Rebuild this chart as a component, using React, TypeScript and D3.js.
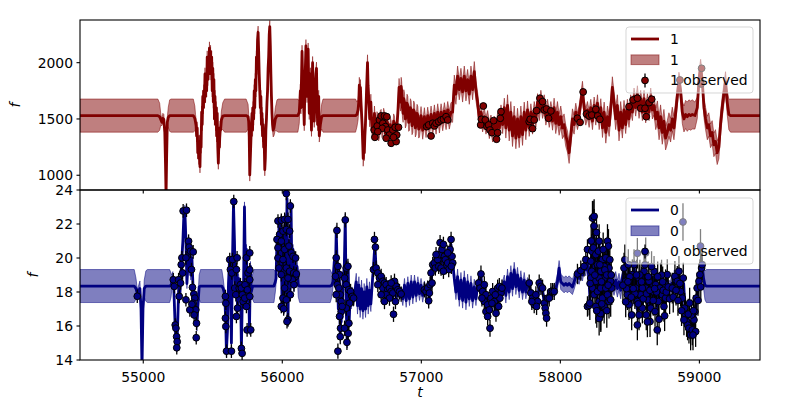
import React from 'react';
import * as d3 from 'd3';

type Tri = [number, number, number];

const xDomain: [number, number] = [54545, 59436];
const xTicks = [55000, 56000, 57000, 58000, 59000];
const topYDomain: [number, number] = [869, 2379];
const topYTicks = [1000, 1500, 2000];
const botYDomain: [number, number] = [14, 24];
const botYTicks = [14, 16, 18, 20, 22, 24];
const topName = '1';
const botName = '0';

// GP fit, series "1": [t, mean, sd]
const topFit: Tri[] = [
  [54545,1530,147],[55105,1530,147],[55118,1520,120],[55126,1495,50],[55134,1470,30],[55141,1505,45],[55148,1495,45],[55155,1380,35],[55160,1100,30],[55164,820,30],[55168,1150,30],[55173,1470,45],[55180,1515,90],[55190,1530,140],[55200,1530,147],
  [55360,1530,147],[55371,1505,110],[55376,1470,70],[55380,1440,60],[55384,1350,55],[55388,1420,55],[55392,1200,55],[55396,1300,55],[55400,1150,55],[55404,1250,55],[55408,1076,55],[55412,1350,55],[55416,1250,55],[55420,1560,55],[55424,1450,55],[55428,1700,55],[55432,1600,55],[55436,1750,55],[55440,1650,55],[55444,1900,55],[55448,1700,55],[55452,1850,55],[55456,1750,55],[55460,2050,55],[55464,1850,55],[55468,2000,55],[55472,1900,55],[55476,2130,55],[55480,1950,55],[55484,2100,55],[55488,1900,55],[55492,2050,55],[55496,1750,55],[55500,1950,55],[55504,1650,55],[55508,1850,55],[55512,1500,55],[55516,1700,55],[55520,1450,55],[55524,1600,55],[55528,1350,55],[55532,1550,55],[55536,1250,55],[55540,1108,55],[55544,1300,55],[55548,1250,55],[55552,1420,60],[55556,1400,65],[55562,1490,80],[55572,1525,120],[55585,1530,147],
  [55740,1530,147],[55754,1520,110],[55758,1480,70],[55762,1350,55],[55766,1003,55],[55770,1150,55],[55774,1300,55],[55778,1450,55],[55782,1550,55],[55786,1400,55],[55790,1600,55],[55794,1500,55],[55798,1750,55],[55802,1600,55],[55806,1850,55],[55810,1750,55],[55814,2050,55],[55818,1950,55],[55822,2200,55],[55826,2270,55],[55830,2100,55],[55834,1900,55],[55838,1750,55],[55842,1600,55],[55846,1700,55],[55850,1450,55],[55854,1550,55],[55858,1350,55],[55862,1450,55],[55866,1250,55],[55870,1300,55],[55874,1050,55],[55878,1150,55],[55882,1400,55],[55886,1500,55],[55890,1650,55],[55894,1750,55],[55898,1950,55],[55902,2050,55],[55906,2250,55],[55910,2320,55],[55914,2150,55],[55918,1900,55],[55922,1700,55],[55926,1550,55],[55930,1450,55],[55934,1400,60],[55940,1420,70],[55950,1500,100],[55962,1530,140],[55972,1530,147],
  [56112,1530,147],[56122,1560,100],[56126,1650,70],[56130,1750,60],[56134,1600,55],[56138,1850,55],[56142,2100,55],[56146,1900,55],[56150,1750,55],[56154,1600,55],[56158,1450,55],[56162,1750,55],[56166,1950,55],[56170,2150,55],[56174,1900,55],[56178,1700,55],[56182,1950,55],[56186,2120,55],[56190,1800,55],[56194,1550,55],[56198,1750,55],[56202,1900,55],[56206,1600,55],[56210,1400,55],[56214,1750,55],[56218,2000,55],[56222,1750,55],[56226,1550,55],[56230,1480,55],[56234,1650,55],[56238,1800,55],[56242,1900,55],[56246,1950,55],[56250,1650,55],[56254,1450,55],[56258,1600,55],[56262,1700,55],[56266,1350,55],[56270,1400,60],[56274,1450,70],[56283,1520,110],[56293,1530,147],
  [56527,1530,147],[56537,1540,110],[56545,1580,90],[56550,1650,75],[56554,1800,70],[56558,1720,70],[56562,1780,70],[56566,1650,70],[56570,1550,70],[56574,1450,70],[56578,1300,70],[56582,1150,70],[56586,1250,70],[56590,1200,70],[56594,1350,70],[56598,1450,70],[56602,1600,70],[56606,1750,70],[56610,1900,70],[56613,2000,70],[56617,1800,70],[56621,1700,70],[56625,1600,70],[56629,1500,70],[56633,1550,70],[56637,1650,70],[56642,1500,70],[56646,1400,65],[56651,1450,65],[56657,1380,65],[56663,1550,65],[56669,1430,65],[56675,1380,65],[56681,1500,65],[56687,1480,65],[56693,1370,65],[56699,1400,65],[56705,1510,65],[56711,1520,65],[56717,1400,65],[56723,1420,65],[56729,1530,65],[56735,1500,65],[56741,1370,65],[56747,1380,65],[56753,1480,65],[56759,1460,65],[56765,1330,65],[56771,1350,65],[56777,1450,65],[56783,1420,65],[56789,1320,65],[56795,1380,65],[56801,1480,65],[56807,1460,65],[56813,1340,65],[56819,1360,65],[56825,1450,70],[56831,1550,75],[56840,1780,80],[56845,1680,80],[56850,1650,80],[56855,1790,80],[56859,1750,80],[56864,1600,80],[56869,1550,80],[56874,1680,80],[56879,1650,80],[56885,1500,80],[56891,1520,80],[56897,1640,80],[56903,1620,80],[56909,1470,80],[56915,1480,80],[56921,1600,80],[56927,1580,80],[56933,1440,80],[56939,1460,80],[56945,1580,80],[56951,1560,80],[56957,1420,80],[56963,1440,80],[56969,1550,80],[56975,1530,80],[56981,1410,80],[56987,1420,80],
  [56998,1530,80],[57010,1400,80],[57022,1520,80],[57034,1410,75],[57046,1530,75],[57058,1420,75],[57070,1540,75],[57082,1430,75],[57094,1550,75],[57106,1440,75],[57118,1560,75],[57130,1450,75],[57142,1560,75],[57154,1470,75],[57166,1570,75],[57178,1480,75],[57190,1580,75],[57201,1490,80],[57213,1560,85],[57225,1560,90],[57237,1800,90],[57249,1720,90],[57261,1880,90],[57273,1760,90],[57285,1860,90],[57297,1740,90],[57309,1880,90],[57321,1750,90],[57333,1850,90],[57345,1720,90],[57357,1880,90],[57369,1760,90],[57381,1920,90],[57393,1750,90],[57405,1650,85],[57417,1500,80],[57429,1560,75],[57441,1460,75],[57453,1520,75],[57465,1440,75],[57477,1500,75],[57489,1400,75],[57501,1460,75],[57513,1370,75],[57525,1450,75],[57537,1380,75],[57549,1480,75],[57561,1420,75],[57573,1550,75],[57585,1450,80],[57597,1600,85],[57608,1420,90],[57620,1620,95],[57632,1400,95],[57644,1560,95],[57656,1350,95],[57668,1520,95],[57680,1330,95],[57692,1500,95],[57704,1340,95],[57716,1520,95],[57728,1360,95],[57740,1560,90],[57752,1400,85],[57764,1580,80],[57776,1420,75],[57788,1560,75],[57800,1440,75],[57812,1580,75],[57824,1500,75],[57836,1650,75],[57848,1560,75],[57860,1680,75],[57872,1580,75],[57884,1640,75],[57896,1520,75],[57908,1600,75],[57920,1500,75],[57932,1580,75],[57944,1480,80],[57955,1600,85],[57967,1460,90],[57979,1560,95],[57991,1450,95],[58003,1520,95],[58015,1420,95],[58027,1450,95],[58039,1350,95],[58051,1300,95],[58063,1200,95],[58075,1350,95],[58087,1500,90],[58099,1450,85],[58111,1560,80],[58123,1480,75],[58135,1540,75],[58147,1650,75],[58159,1760,75],[58171,1600,75],[58183,1520,75],[58195,1580,75],[58207,1500,75],
  [58219,1600,75],[58231,1480,75],[58243,1620,75],[58255,1520,75],[58267,1640,75],[58279,1480,75],[58291,1600,80],[58303,1420,85],[58315,1560,90],[58327,1380,95],[58339,1520,95],[58351,1440,95],[58363,1600,95],[58374,1780,95],[58386,1650,95],[58398,1500,95],[58410,1620,95],[58422,1400,95],[58434,1560,95],[58446,1420,90],[58458,1580,85],[58470,1450,80],[58482,1600,75],[58494,1500,75],[58506,1640,75],[58518,1560,75],[58530,1700,75],[58542,1600,75],[58554,1720,75],[58566,1580,75],[58578,1680,75],[58590,1560,75],[58602,1680,75],[58614,1540,75],[58626,1650,75],[58638,1560,75],[58650,1700,75],[58662,1580,80],[58674,1620,85],[58686,1500,95],[58698,1560,100],[58710,1420,105],[58721,1520,105],[58733,1380,105],[58745,1480,105],[58757,1330,105],[58769,1380,105],[58781,1450,105],[58793,1400,105],[58805,1500,105],[58817,1420,105],[58829,1550,100],[58841,1700,85],[58853,1840,75],[58865,1750,85],[58877,1560,100],[58889,1500,115],[58901,1540,125],[58913,1520,130],[58925,1540,130],[58937,1530,130],[58949,1540,130],[58968,1530,120],[58985,1600,95],[58997,1850,75],[59009,1960,70],[59020,1850,75],[59033,1600,90],[59045,1500,100],[59057,1420,105],[59068,1450,105],[59080,1350,105],[59092,1380,105],[59104,1270,105],[59116,1300,105],[59128,1200,105],[59140,1250,105],[59152,1450,100],[59164,1600,95],[59176,1720,90],[59188,1830,90],[59200,1650,110],[59212,1540,135],[59224,1530,147],[59436,1530,147]
];

// GP fit, series "0": [t, mean, sd]
const botFit: Tri[] = [
  [54545,18.35,0.97],[54935,18.35,0.97],[54948,18.2,0.6],[54957,17.9,0.25],[54967,18.1,0.3],[54976,18.2,0.45],[54984,17.0,0.2],[54991,13.5,0.2],[54998,17.0,0.2],[55007,18.2,0.5],[55019,18.35,0.9],[55030,18.35,0.97],
  [55190,18.35,0.97],[55200,18.4,0.7],[55206,18.6,0.4],[55213,18.9,0.3],[55220,18.2,0.3],[55228,16.3,0.3],[55235,15.2,0.3],[55242,14.8,0.3],[55249,16.5,0.3],[55256,18.6,0.3],[55263,17.8,0.3],[55271,19.0,0.3],[55278,20.0,0.3],[55285,21.0,0.3],[55292,22.5,0.3],[55299,22.8,0.3],[55307,21.0,0.3],[55314,18.5,0.3],[55321,19.5,0.3],[55328,20.8,0.3],[55335,20.3,0.3],[55342,19.0,0.3],[55350,20.0,0.3],[55357,18.5,0.3],[55364,17.8,0.3],[55371,17.3,0.3],[55378,16.8,0.3],[55386,16.0,0.3],[55393,17.2,0.4],[55402,18.3,0.7],[55412,18.35,0.97],
  [55565,18.35,0.97],[55575,18.2,0.6],[55581,18.0,0.35],[55587,17.7,0.3],[55594,16.0,0.3],[55598,14.5,0.3],[55606,15.8,0.3],[55613,18.5,0.3],[55620,19.8,0.3],[55627,19.3,0.3],[55634,15.0,0.3],[55642,19.9,0.3],[55649,23.2,0.3],[55656,21.0,0.3],[55663,18.0,0.3],[55670,19.5,0.3],[55678,17.0,0.3],[55685,18.8,0.3],[55692,18.2,0.3],[55699,18.5,0.3],[55706,14.7,0.3],[55713,17.9,0.3],[55720,17.4,0.3],[55728,23.0,0.3],[55735,19.0,0.3],[55742,20.5,0.3],[55749,17.5,0.3],[55756,19.0,0.3],[55764,15.8,0.3],[55771,19.5,0.3],[55777,18.0,0.4],[55785,18.3,0.7],[55796,18.35,0.97],
  [55940,18.35,0.97],[55950,18.6,0.6],[55955,18.8,0.35],[55962,21.0,0.3],[55969,20.0,0.3],[55977,22.0,0.3],[55984,19.5,0.3],[55991,22.2,0.3],[55998,17.2,0.3],[56005,21.5,0.3],[56012,17.0,0.3],[56020,22.3,0.3],[56027,18.0,0.3],[56034,23.5,0.3],[56041,16.3,0.3],[56048,21.0,0.3],[56056,17.8,0.3],[56063,23.0,0.3],[56070,18.5,0.3],[56077,20.5,0.3],[56084,18.3,0.3],[56091,20.0,0.3],[56099,18.8,0.3],[56106,19.5,0.35],[56115,18.4,0.7],[56125,18.35,0.97],
  [56345,18.35,0.97],[56356,18.4,0.7],[56364,18.6,0.4],[56374,19.8,0.3],[56381,18.5,0.3],[56388,21.6,0.3],[56395,19.5,0.3],[56403,17.0,0.3],[56410,19.0,0.3],[56417,15.5,0.3],[56424,17.5,0.3],[56431,16.5,0.3],[56438,18.8,0.3],[56446,19.5,0.3],[56453,22.3,0.3],[56460,17.0,0.3],[56467,15.0,0.3],[56474,19.5,0.3],[56481,16.2,0.3],[56489,18.0,0.3],[56496,17.3,0.3],[56503,18.0,0.3],[56510,17.5,0.35],[56520,17.9,0.45],[56532,18.6,0.5],[56541,17.2,0.5],[56551,18.4,0.5],[56560,17.0,0.5],[56570,18.2,0.5],[56580,16.9,0.5],[56589,18.0,0.5],[56599,17.0,0.5],[56608,18.3,0.5],[56618,17.2,0.5],[56627,18.1,0.5],[56637,17.3,0.45],[56647,18.5,0.4],[56656,19.5,0.3],[56666,20.8,0.3],[56675,19.3,0.3],[56685,18.8,0.3],[56694,19.0,0.3],[56704,18.5,0.3],[56714,18.9,0.3],[56723,18.3,0.3],[56735,18.6,0.3],[56747,18.0,0.3],[56759,18.4,0.3],[56771,17.8,0.3],[56783,18.3,0.3],[56795,17.7,0.3],[56807,18.4,0.3],[56819,17.7,0.3],[56831,18.2,0.3],[56843,17.8,0.3],[56855,18.0,0.3],[56867,17.6,0.4],[56879,18.4,0.4],[56891,17.5,0.4],[56903,18.5,0.4],[56915,17.6,0.4],[56927,18.6,0.4],[56939,17.7,0.4],[56951,18.6,0.4],[56963,17.8,0.4],[56975,18.5,0.4],[56987,17.9,0.4],
  [56998,18.4,0.4],[57010,17.8,0.4],[57022,18.3,0.35],[57034,17.9,0.35],[57046,18.3,0.35],[57058,17.7,0.35],[57070,18.6,0.35],[57082,19.5,0.35],[57094,19.8,0.35],[57106,19.5,0.35],[57118,20.1,0.35],[57130,19.6,0.35],[57142,20.4,0.35],[57154,19.7,0.35],[57166,20.3,0.35],[57178,19.5,0.35],[57190,20.0,0.35],[57201,19.6,0.35],[57213,20.8,0.35],[57225,19.8,0.35],[57237,18.8,0.4],[57249,18.0,0.45],[57261,18.9,0.45],[57273,17.6,0.45],[57285,18.7,0.45],[57297,17.5,0.45],[57309,18.8,0.45],[57321,17.4,0.45],[57333,18.6,0.45],[57345,17.6,0.45],[57357,18.5,0.45],[57369,17.5,0.45],[57381,18.3,0.45],[57393,17.6,0.4],[57405,18.4,0.35],[57417,18.6,0.3],[57429,18.9,0.3],[57441,18.0,0.3],[57453,18.3,0.3],[57465,17.4,0.3],[57477,17.0,0.3],[57489,16.6,0.3],[57501,17.3,0.3],[57513,17.8,0.3],[57525,17.2,0.3],[57537,17.0,0.3],[57549,18.0,0.3],[57561,18.2,0.3],[57573,17.9,0.3],[57585,18.3,0.35],[57597,18.6,0.4],[57608,17.8,0.45],[57620,18.9,0.45],[57632,18.0,0.45],[57644,19.1,0.45],[57656,18.2,0.45],[57668,19.3,0.45],[57680,18.3,0.45],[57692,19.0,0.45],[57704,18.1,0.45],[57716,18.8,0.45],[57728,18.0,0.45],[57740,18.7,0.45],[57752,18.0,0.4],[57764,18.5,0.35],[57776,18.4,0.3],[57788,17.9,0.3],[57800,17.6,0.3],[57812,17.4,0.3],[57824,17.8,0.3],[57836,17.5,0.3],[57848,18.4,0.3],[57860,18.3,0.3],[57872,18.1,0.3],[57884,17.4,0.3],[57896,16.8,0.3],[57908,17.6,0.3],[57920,17.7,0.3],[57932,18.0,0.3],[57944,18.0,0.3],[57955,18.1,0.35],[57967,18.2,0.4],[57979,18.6,0.45],[57991,19.4,0.45],[58003,18.6,0.45],[58015,18.5,0.45],[58027,18.4,0.45],[58039,18.5,0.45],[58051,18.4,0.45],[58063,18.5,0.45],[58075,18.4,0.45],[58087,18.3,0.45],[58099,18.6,0.45],[58111,18.9,0.4],[58123,19.0,0.35],[58135,18.8,0.35],[58147,19.2,0.35],[58159,19.0,0.35],[58171,19.5,0.35],[58183,19.3,0.35],[58195,19.9,0.35],[58207,18.5,0.35],
  [58214,17.5,0.35],[58221,20.0,0.35],[58229,18.2,0.35],[58236,22.3,0.35],[58243,21.5,0.35],[58250,18.0,0.35],[58257,20.2,0.35],[58264,17.8,0.35],[58272,19.6,0.35],[58279,21.0,0.35],[58286,17.2,0.35],[58293,19.2,0.35],[58300,18.0,0.35],[58308,19.9,0.35],[58315,17.5,0.35],[58322,19.5,0.35],[58329,18.3,0.35],[58336,20.9,0.35],[58343,20.5,0.35],[58351,18.0,0.35],[58358,19.4,0.35],[58365,18.2,0.4],[58374,18.6,0.45],[58386,18.3,0.5],[58398,18.7,0.5],[58410,18.2,0.5],[58422,18.6,0.5],[58434,18.1,0.5],[58446,18.8,0.45],[58456,19.2,0.4],[58465,18.0,0.4],[58475,18.9,0.4],[58485,17.5,0.4],[58494,19.4,0.4],[58504,17.9,0.4],[58513,18.8,0.4],[58523,17.6,0.4],[58532,19.5,0.4],[58542,18.0,0.4],[58552,17.0,0.4],[58561,18.8,0.4],[58571,17.8,0.4],[58580,18.5,0.4],[58590,17.3,0.4],[58599,19.0,0.4],[58609,17.8,0.4],[58619,18.6,0.4],[58628,17.2,0.4],[58638,18.6,0.4],[58647,17.0,0.4],[58657,18.3,0.4],[58666,18.9,0.4],[58676,17.8,0.4],[58686,18.5,0.4],[58695,16.8,0.4],[58705,17.9,0.4],[58714,18.4,0.4],[58724,18.0,0.4],[58733,17.7,0.4],[58743,17.4,0.4],[58753,18.3,0.4],[58762,18.8,0.45],[58772,18.0,0.5],[58781,18.2,0.5],[58791,18.1,0.5],[58800,18.5,0.45],[58810,18.3,0.4],[58820,18.9,0.4],[58829,18.5,0.4],[58839,18.7,0.4],[58848,19.0,0.4],[58858,18.2,0.4],[58868,18.0,0.4],[58877,17.6,0.4],[58887,18.5,0.4],[58896,17.1,0.4],[58906,16.6,0.4],[58915,16.2,0.4],[58925,16.0,0.4],[58934,15.6,0.4],[58944,16.1,0.4],[58954,15.6,0.4],[58963,16.4,0.4],[58973,16.8,0.4],[58982,17.8,0.4],[58992,18.3,0.4],[59002,18.8,0.4],[59011,19.2,0.4],[59020,19.6,0.4],[59030,18.8,0.6],[59040,18.4,0.85],[59050,18.35,0.97],[59436,18.35,0.97]
];

// observations, series "1": [t, f, err]
const topObs: Tri[] = [
  [56666,1337,25],[56661,1402,25],[56683,1438,25],[56699,1491,25],[56711,1527,25],[56735,1527,25],[56752,1520,25],[56723,1462,25],[56742,1432,25],[56719,1417,25],[56687,1387,25],[56759,1402,25],[56771,1358,25],[56747,1329,25],[56783,1284,25],[56795,1402,25],[56812,1426,25],[56823,1358,25],[56836,1426,25],[56819,1299,25],[56800,1337,25],
  [57039,1432,25],[57053,1447,25],[57070,1349,25],[57082,1462,25],[57094,1438,25],[57106,1462,25],[57125,1476,25],[57142,1491,25],[57159,1497,25],[57178,1520,25],[57190,1491,25],
  [57427,1447,25],[57432,1497,25],[57446,1615,25],[57460,1491,25],[57472,1432,25],[57484,1447,25],[57494,1402,25],[57508,1378,25],[57520,1485,25],[57541,1320,25],[57549,1378,25],[57568,1506,25],[57573,1565,25],
  [57776,1476,25],[57783,1497,25],[57800,1414,25],[57812,1491,25],[57829,1574,25],[57853,1684,25],[57872,1654,25],[57884,1580,25],[57900,1589,25],[57915,1506,25],[57932,1571,25],
  [58123,1506,25],[58142,1470,25],[58164,1740,25],[58188,1544,25],[58207,1527,25],[58226,1535,25],[58255,1586,25],[58269,1527,25],[58284,1497,25],
  [58494,1609,25],[58523,1669,25],[58554,1684,25],[58578,1595,25],[58609,1595,25],[58618,1520,25],[58638,1645,25],[58657,1675,25],
  [58860,1846,25],[59016,1950,25],[59012,1811,25]
];

// observations, series "0": [t, f, err]
const botObs: Tri[] = [
  [54957,17.75,0.4],
  [55216,18.72,0.4],[55223,18.33,0.4],[55230,16.06,0.4],[55235,15.87,0.4],[55240,15.37,0.4],[55244,15.08,0.4],[55241,14.72,0.4],[55254,18.72,0.4],[55259,17.74,0.4],[55268,18.53,0.4],[55273,19.61,0.4],[55278,20.01,0.4],[55283,19.12,0.4],[55287,22.77,0.4],[55311,22.81,0.4],[55307,20.01,0.4],[55307,17.54,0.4],[55326,20.99,0.4],[55330,20.64,0.4],[55340,20.4,0.4],[55359,20.36,0.4],[55347,19.32,0.4],[55354,18.27,0.4],[55364,17.88,0.4],[55371,17.64,0.4],[55359,17.34,0.4],[55378,16.95,0.4],[55366,16.65,0.4],[55383,16.16,0.4],[55381,15.31,0.4],[55335,16.95,0.4],[55350,17.28,0.4],
  [55591,17.74,0.4],[55594,17.34,0.4],[55591,16.46,0.4],[55594,15.97,0.4],[55599,14.52,0.4],[55634,14.52,0.4],[55622,19.91,0.4],[55627,19.32,0.4],[55637,19.12,0.4],[55642,19.91,0.4],[55651,23.32,0.4],[55658,18.23,0.4],[55666,17.84,0.4],[55675,20.01,0.4],[55670,19.32,0.4],[55670,16.56,0.4],[55678,17.05,0.4],[55690,18.23,0.4],[55699,18.43,0.4],[55706,14.68,0.4],[55711,14.39,0.4],[55706,18.23,0.4],[55713,17.84,0.4],[55718,17.44,0.4],[55730,17.64,0.4],[55732,18.43,0.4],[55742,20.01,0.4],[55742,17.15,0.4],[55749,18.13,0.4],[55747,15.77,0.4],[55754,19.12,0.4],[55766,20.3,0.4],[55766,19.3,0.4],[55766,18.72,0.4],[55766,17.74,0.4],[55773,15.77,0.4],
  [56029,23.79,0.4],[56058,23.06,0.4],[55969,22.18,0.4],[55993,22.22,0.4],[56017,22.27,0.4],[56041,22.27,0.4],[55981,21.39,0.4],[56005,21.58,0.4],[56029,21.68,0.4],[56053,21.58,0.4],[55962,21.09,0.4],[55993,20.99,0.4],[55969,20.6,0.4],[56017,20.5,0.4],[56048,20.7,0.4],[56065,20.3,0.4],[56077,20.1,0.4],[56096,20.0,0.4],[55969,20.0,0.4],[56005,19.91,0.4],[55976,19.41,0.4],[56029,19.41,0.4],[56053,19.22,0.4],[56082,19.12,0.4],[55993,19.02,0.4],[56096,18.92,0.4],[56072,18.72,0.4],[56041,18.82,0.4],[56017,18.23,0.4],[56058,17.84,0.4],[56005,17.64,0.4],[56029,17.54,0.4],[55993,17.15,0.4],[56010,17.01,0.4],[56041,16.36,0.4],[56034,16.26,0.4],[56084,18.43,0.4],[56101,19.06,0.4],
  [56393,21.62,0.45],[56453,22.24,0.45],[56388,20.01,0.45],[56400,19.51,0.45],[56412,19.02,0.45],[56383,18.92,0.45],[56395,18.43,0.45],[56407,18.23,0.45],[56417,17.84,0.45],[56424,17.44,0.45],[56388,17.84,0.45],[56460,19.41,0.45],[56472,19.51,0.45],[56448,18.82,0.45],[56460,18.43,0.45],[56477,18.13,0.45],[56491,18.03,0.45],[56503,17.74,0.45],[56513,17.64,0.45],[56484,17.34,0.45],[56460,17.05,0.45],[56424,16.85,0.45],[56412,16.56,0.45],[56419,15.87,0.45],[56417,15.37,0.45],[56479,16.16,0.45],[56474,15.57,0.45],[56465,15.04,0.45],[56448,15.87,0.45],[56400,14.52,0.45],[56431,17.15,0.45],
  [56663,21.09,0.45],[56670,20.64,0.45],[56656,19.32,0.45],[56675,19.41,0.45],[56687,19.12,0.45],[56699,18.82,0.45],[56711,18.92,0.45],[56723,18.63,0.45],[56735,18.53,0.45],[56723,18.23,0.45],[56747,18.43,0.45],[56759,18.13,0.45],[56771,18.23,0.45],[56783,18.03,0.45],[56795,17.94,0.45],[56807,18.63,0.45],[56819,18.33,0.45],[56831,18.13,0.45],[56843,18.03,0.45],[56855,17.88,0.45],[56747,17.84,0.45],[56771,17.64,0.45],[56814,17.44,0.45],[56800,16.69,0.45],[56735,17.44,0.45],[56711,17.84,0.45],[56687,18.43,0.45],[56783,18.53,0.45],
  [57022,18.13,0.45],[57034,18.03,0.45],[57046,18.23,0.45],[57053,17.48,0.45],[57063,18.43,0.45],[57077,18.53,0.45],[57058,17.94,0.45],[57070,19.12,0.45],[57082,19.61,0.45],[57094,19.71,0.45],[57101,19.41,0.45],[57118,19.91,0.45],[57130,20.2,0.45],[57135,20.9,0.45],[57149,20.5,0.45],[57159,20.8,0.45],[57166,20.1,0.45],[57173,19.9,0.45],[57178,19.5,0.45],[57190,19.71,0.45],[57197,19.32,0.45],[57207,20.5,0.45],[57214,21.09,0.45],[57221,20.1,0.45],[57226,19.71,0.45],[57216,19.51,0.45],[57125,19.51,0.45],[57142,19.41,0.45],[57159,19.22,0.45],[57106,20.2,0.45],[57190,20.3,0.45],
  [57412,18.53,0.5],[57429,19.06,0.5],[57422,18.23,0.5],[57441,18.03,0.5],[57453,18.43,0.5],[57465,17.84,0.5],[57453,17.44,0.5],[57477,17.25,0.5],[57465,16.85,0.5],[57489,16.95,0.5],[57494,15.87,0.5],[57501,17.64,0.5],[57513,18.03,0.5],[57525,17.44,0.5],[57537,16.75,0.5],[57549,18.23,0.5],[57561,18.33,0.5],[57573,17.94,0.5],[57565,17.64,0.5],[57580,18.23,0.5],[57477,16.56,0.5],[57436,17.64,0.5],[57508,17.34,0.5],[57532,17.84,0.5],[57556,17.15,0.5],
  [57776,18.53,0.5],[57788,17.94,0.5],[57800,17.64,0.5],[57812,17.25,0.5],[57824,17.84,0.5],[57836,17.44,0.5],[57848,18.53,0.5],[57860,18.33,0.5],[57872,18.23,0.5],[57884,17.34,0.5],[57891,17.05,0.5],[57896,16.75,0.5],[57901,16.46,0.5],[57908,17.64,0.5],[57920,17.64,0.5],[57932,18.03,0.5],[57944,18.03,0.5],[57956,18.03,0.5],[57795,17.44,0.5],[57829,17.15,0.5],
  [58123,19.06,0.6],[58147,19.26,0.6],[58171,19.51,0.6],[58183,19.91,0.6],[58195,20.5,0.6],[58195,17.15,0.6],[58207,17.22,0.6],
  [58236,22.37,1.0],[58243,21.88,1.0],[58226,20.4,1.0],[58219,19.81,1.0],[58255,20.2,1.0],[58267,19.61,1.0],[58279,20.99,1.0],[58291,19.22,1.0],[58303,19.91,1.0],[58315,18.82,1.0],[58327,20.01,1.0],[58339,20.99,1.0],[58346,20.7,1.0],[58350,19.41,1.0],[58362,18.63,1.0],[58370,18.23,1.0],[58219,18.82,1.0],[58231,18.23,1.0],[58243,17.84,1.0],[58255,18.63,1.0],[58267,18.03,1.0],[58279,17.44,1.0],[58291,18.23,1.0],[58303,17.64,1.0],[58315,17.15,1.0],[58327,18.23,1.0],[58339,17.84,1.0],[58350,17.44,1.0],[58212,17.35,1.0],[58291,16.65,1.0],[58255,17.15,1.0],[58362,17.54,1.0],[58226,19.22,1.0],[58279,18.82,1.0],[58315,19.51,1.0],[58231,22.35,1.0],[58243,22.45,1.0],[58279,16.44,1.0],[58290,16.73,1.0],
  [58222,21.0,1.0],[58238,20.6,1.0],[58248,19.0,1.0],[58260,21.5,1.0],[58274,20.4,1.0],[58284,19.6,1.0],[58296,18.6,1.0],[58308,20.5,1.0],[58320,19.3,1.0],[58333,19.0,1.0],[58344,18.4,1.0],[58356,19.9,1.0],[58366,19.0,1.0],[58214,18.5,1.0],[58262,16.9,1.0],[58298,17.3,1.0],[58334,16.9,1.0],
  [58458,19.41,0.9],[58470,18.63,0.9],[58482,17.84,0.9],[58494,17.25,0.9],[58506,18.23,0.9],[58518,19.02,0.9],[58530,19.61,0.9],[58542,18.23,0.9],[58554,17.44,0.9],[58554,16.06,0.9],[58566,18.82,0.9],[58578,17.84,0.9],[58590,17.05,0.9],[58602,19.22,0.9],[58614,18.23,0.9],[58626,17.54,0.9],[58638,18.63,0.9],[58645,16.26,0.9],[58650,17.05,0.9],[58662,18.03,0.9],[58674,19.22,0.9],[58686,18.43,0.9],[58697,15.77,0.9],[58705,17.44,0.9],[58714,18.23,0.9],[58721,18.82,0.9],[58733,17.84,0.9],[58745,17.15,0.9],[58757,18.43,0.9],[58769,19.02,0.9],[58489,19.61,0.9],[58513,16.65,0.9],[58590,18.23,0.9],[58618,16.65,0.9],[58681,16.85,0.9],[58757,17.64,0.9],[58566,16.65,0.9],[58470,17.42,0.9],[58626,16.24,0.9],[58554,20.28,0.9],[58614,20.3,0.9],[58476,18.2,0.9],[58500,18.9,0.9],[58536,17.9,0.9],[58572,19.0,0.9],[58596,17.6,0.9],[58632,18.9,0.9],[58668,17.5,0.9],[58692,18.0,0.9],[58728,19.0,0.9],[58740,18.1,0.9],
  [58450,18.4,0.9],[58464,19.9,0.9],[58486,18.6,0.9],[58510,17.7,0.9],[58524,18.2,0.9],[58548,19.0,0.9],[58560,17.3,0.9],[58584,18.6,0.9],[58608,19.6,0.9],[58620,17.9,0.9],[58644,18.1,0.9],[58656,19.5,0.9],[58678,18.2,0.9],[58700,18.9,0.9],[58710,16.4,0.9],[58736,18.6,0.9],[58750,16.6,0.9],[58762,18.0,0.9],[58776,18.3,0.9],[58786,17.6,0.9],
  [58805,18.23,0.9],[58824,18.92,0.9],[58841,18.63,0.9],[58853,19.22,0.9],[58865,18.03,0.9],[58877,17.64,0.9],[58884,18.82,0.9],[58894,17.05,0.9],[58901,16.65,0.9],[58908,16.26,0.9],[58915,16.06,0.9],[58925,15.87,0.9],[58937,15.47,0.9],[58949,15.77,0.9],[58961,16.36,0.9],[58968,16.85,0.9],[58977,17.64,0.9],[58984,18.23,0.9],[58997,18.63,0.9],[59004,19.02,0.9],[59016,19.41,0.9],[59020,19.61,0.9],[58930,17.35,0.9],[58889,16.36,0.9],[58944,16.65,0.9],[58973,15.67,0.9],[58954,15.47,0.9],[58882,22.12,1.1],[59008,20.7,1.0],
  [58812,17.7,0.9],[58832,18.1,0.9],[58846,17.5,0.9],[58860,18.5,0.9],[58872,16.9,0.9],[58920,16.7,0.9],[58958,16.9,0.9],[58990,17.5,0.9],[59010,18.3,0.9]
];

const FONT = "'DejaVu Sans', sans-serif";
const FS = 13.9;
const L = 80, R = 760;

const x = d3.scaleLinear().domain(xDomain).range([L, R]);

type PanelProps = {
  id: string; fit: Tri[]; obs: Tri[]; top: number; bottom: number;
  yDomain: [number, number]; yTicks: number[]; color: string; labelX: number; showXLabels: boolean;
};

function Panel({ id, fit, obs, top, bottom, yDomain, yTicks, color, labelX, showXLabels }: PanelProps) {
  const y = d3.scaleLinear().domain(yDomain).range([bottom, top]);
  const area = d3.area<Tri>().x(d => x(d[0])).y0(d => y(d[1] - d[2])).y1(d => y(d[1] + d[2]));
  const line = d3.line<Tri>().x(d => x(d[0])).y(d => y(d[1]));
  return (
    <g>
      <defs>
        <clipPath id={id}><rect x={L} y={top} width={R - L} height={bottom - top} /></clipPath>
      </defs>
      <g clipPath={`url(#${id})`}>
        <path d={area(fit) || ''} fill={color} fillOpacity={0.5} stroke={color} strokeOpacity={0.5} strokeWidth={1} />
        <path d={line(fit) || ''} fill="none" stroke={color} strokeWidth={2.8} strokeLinejoin="round" />
        {obs.map((d, i) => (
          <line key={'e' + i} x1={x(d[0])} x2={x(d[0])} y1={y(d[1] - d[2])} y2={y(d[1] + d[2])} stroke="#000" strokeWidth={1.3} />
        ))}
        {obs.map((d, i) => (
          <circle key={'c' + i} cx={x(d[0])} cy={y(d[1])} r={3.4} fill={color} stroke="#000" strokeWidth={1} />
        ))}
      </g>
      <rect x={L} y={top} width={R - L} height={bottom - top} fill="none" stroke="#000" strokeWidth={1.1} />
      {yTicks.map(t => (
        <g key={'y' + t}>
          <line x1={L - 3.5} x2={L} y1={y(t)} y2={y(t)} stroke="#000" strokeWidth={1.1} />
          <text x={L - 7} y={y(t) + 5} textAnchor="end" fontFamily={FONT} fontSize={FS} fill="#000">{t}</text>
        </g>
      ))}
      {xTicks.map(t => (
        <g key={'x' + t}>
          <line x1={x(t)} x2={x(t)} y1={bottom} y2={bottom + 3.5} stroke="#000" strokeWidth={1.1} />
          {showXLabels && (
            <text x={x(t)} y={bottom + 22} textAnchor="middle" fontFamily={FONT} fontSize={FS} fill="#000">{t}</text>
          )}
        </g>
      ))}
      <text transform={`translate(${labelX},${(top + bottom) / 2}) rotate(-90)`} textAnchor="middle" fontFamily={FONT} fontStyle="italic" fontSize={FS} fill="#000">f</text>
    </g>
  );
}

function Legend({ top, color, name }: { top: number; color: string; name: string }) {
  const left = 626, w = 127, h = 66;
  const hx0 = 631, hx1 = 659, tx = 670;
  const r1 = top + 12, r2 = top + 32.7, r3 = top + 53.4;
  return (
    <g>
      <rect x={left} y={top} width={w} height={h} rx={3} fill="#fff" fillOpacity={0.5} stroke="#ccc" strokeOpacity={0.8} strokeWidth={1} />
      <line x1={hx0} x2={hx1} y1={r1} y2={r1} stroke={color} strokeWidth={2.8} />
      <text x={tx} y={r1 + 5} fontFamily={FONT} fontSize={FS} fill="#000">{name}</text>
      <rect x={hx0} y={r2 - 4.8} width={hx1 - hx0} height={9.7} fill={color} fillOpacity={0.5} stroke={color} strokeOpacity={0.5} strokeWidth={1} />
      <text x={tx} y={r2 + 5} fontFamily={FONT} fontSize={FS} fill="#000">{name}</text>
      <line x1={645} x2={645} y1={r3 - 7} y2={r3 + 7} stroke="#000" strokeWidth={1.3} />
      <circle cx={645} cy={r3} r={3.4} fill={color} stroke="#000" strokeWidth={1} />
      <text x={tx} y={r3 + 5} fontFamily={FONT} fontSize={FS} fill="#000">{name} observed</text>
    </g>
  );
}

export default function App() {
  return (
    <div style={{ position: 'absolute', left: 0, top: 0, width: 800, height: 400, background: '#fff' }}>
      <svg width={800} height={400} viewBox="0 0 800 400" style={{ display: 'block' }}>
        <rect width={800} height={400} fill="#fff" />
        <Panel id="clipTop" fit={topFit} obs={topObs} top={20} bottom={190} yDomain={topYDomain} yTicks={topYTicks}
          color="#800000" labelX={20} showXLabels={false} />
        <Panel id="clipBot" fit={botFit} obs={botObs} top={190} bottom={360} yDomain={botYDomain} yTicks={botYTicks}
          color="#000080" labelX={38} showXLabels={true} />
        <text x={420} y={397} textAnchor="middle" fontFamily={FONT} fontStyle="italic" fontSize={FS} fill="#000">t</text>
        <Legend top={27} color="#800000" name={topName} />
        <Legend top={198} color="#000080" name={botName} />
      </svg>
    </div>
  );
}
